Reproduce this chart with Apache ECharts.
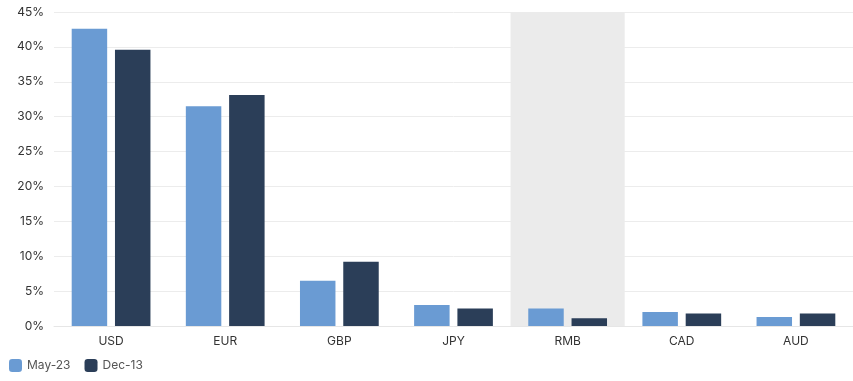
<!DOCTYPE html>
<html><head><meta charset="utf-8">
<script src="https://cdn.jsdelivr.net/npm/echarts@6/dist/echarts.min.js"></script>
<style>html,body{margin:0;padding:0;background:#fff}#c{width:853px;height:381px}</style>
</head><body><div id="c"></div>
<script>
const categories = ['USD','EUR','GBP','JPY','RMB','CAD','AUD'];
const may23 = [42.6, 31.5, 6.5, 3.0, 2.5, 2.0, 1.3];
const dec13 = [39.6, 33.1, 9.2, 2.5, 1.1, 1.8, 1.8];
const highlight = [null, null, null, null, 45, null, null];
const yTicks = {min: 0, max: 45, interval: 5};

const chart = echarts.init(document.getElementById('c'));
chart.setOption({
  animation: false,
  textStyle: {fontFamily: 'Inter'},
  grid: {left: 54, right: 0, top: 12, bottom: 55},
  legend: {
    data: ['May-23', 'Dec-13'], left: 4, bottom: 4, itemWidth: 13, itemHeight: 13, itemGap: 14,
    icon: 'roundRect', textStyle: {color: '#555', fontSize: 12, fontFamily: 'Inter'}
  },
  xAxis: [
    {type: 'category', data: categories, axisTick: {show: false},
     axisLine: {lineStyle: {color: '#e6e6e6'}},
     axisLabel: {color: '#333', fontSize: 12, margin: 9}},
    {type: 'category', data: categories, show: false}
  ],
  yAxis: {type: 'value', min: yTicks.min, max: yTicks.max, interval: yTicks.interval,
    axisLabel: {formatter: '{value}%', color: '#333', fontSize: 12, margin: 10},
    splitLine: {lineStyle: {color: '#ececec'}}},
  series: [
    {name: 'bg', type: 'bar', xAxisIndex: 1, data: highlight, barWidth: '100%',
     itemStyle: {color: '#ebebeb'}, silent: true, z: 0},
    {name: 'May-23', type: 'bar', data: may23, itemStyle: {color: '#6a9bd3'},
     barGap: '22%', barCategoryGap: '31%'},
    {name: 'Dec-13', type: 'bar', data: dec13, itemStyle: {color: '#2b3e58'},
     barGap: '22%', barCategoryGap: '31%'}
  ]
});
</script></body></html>
